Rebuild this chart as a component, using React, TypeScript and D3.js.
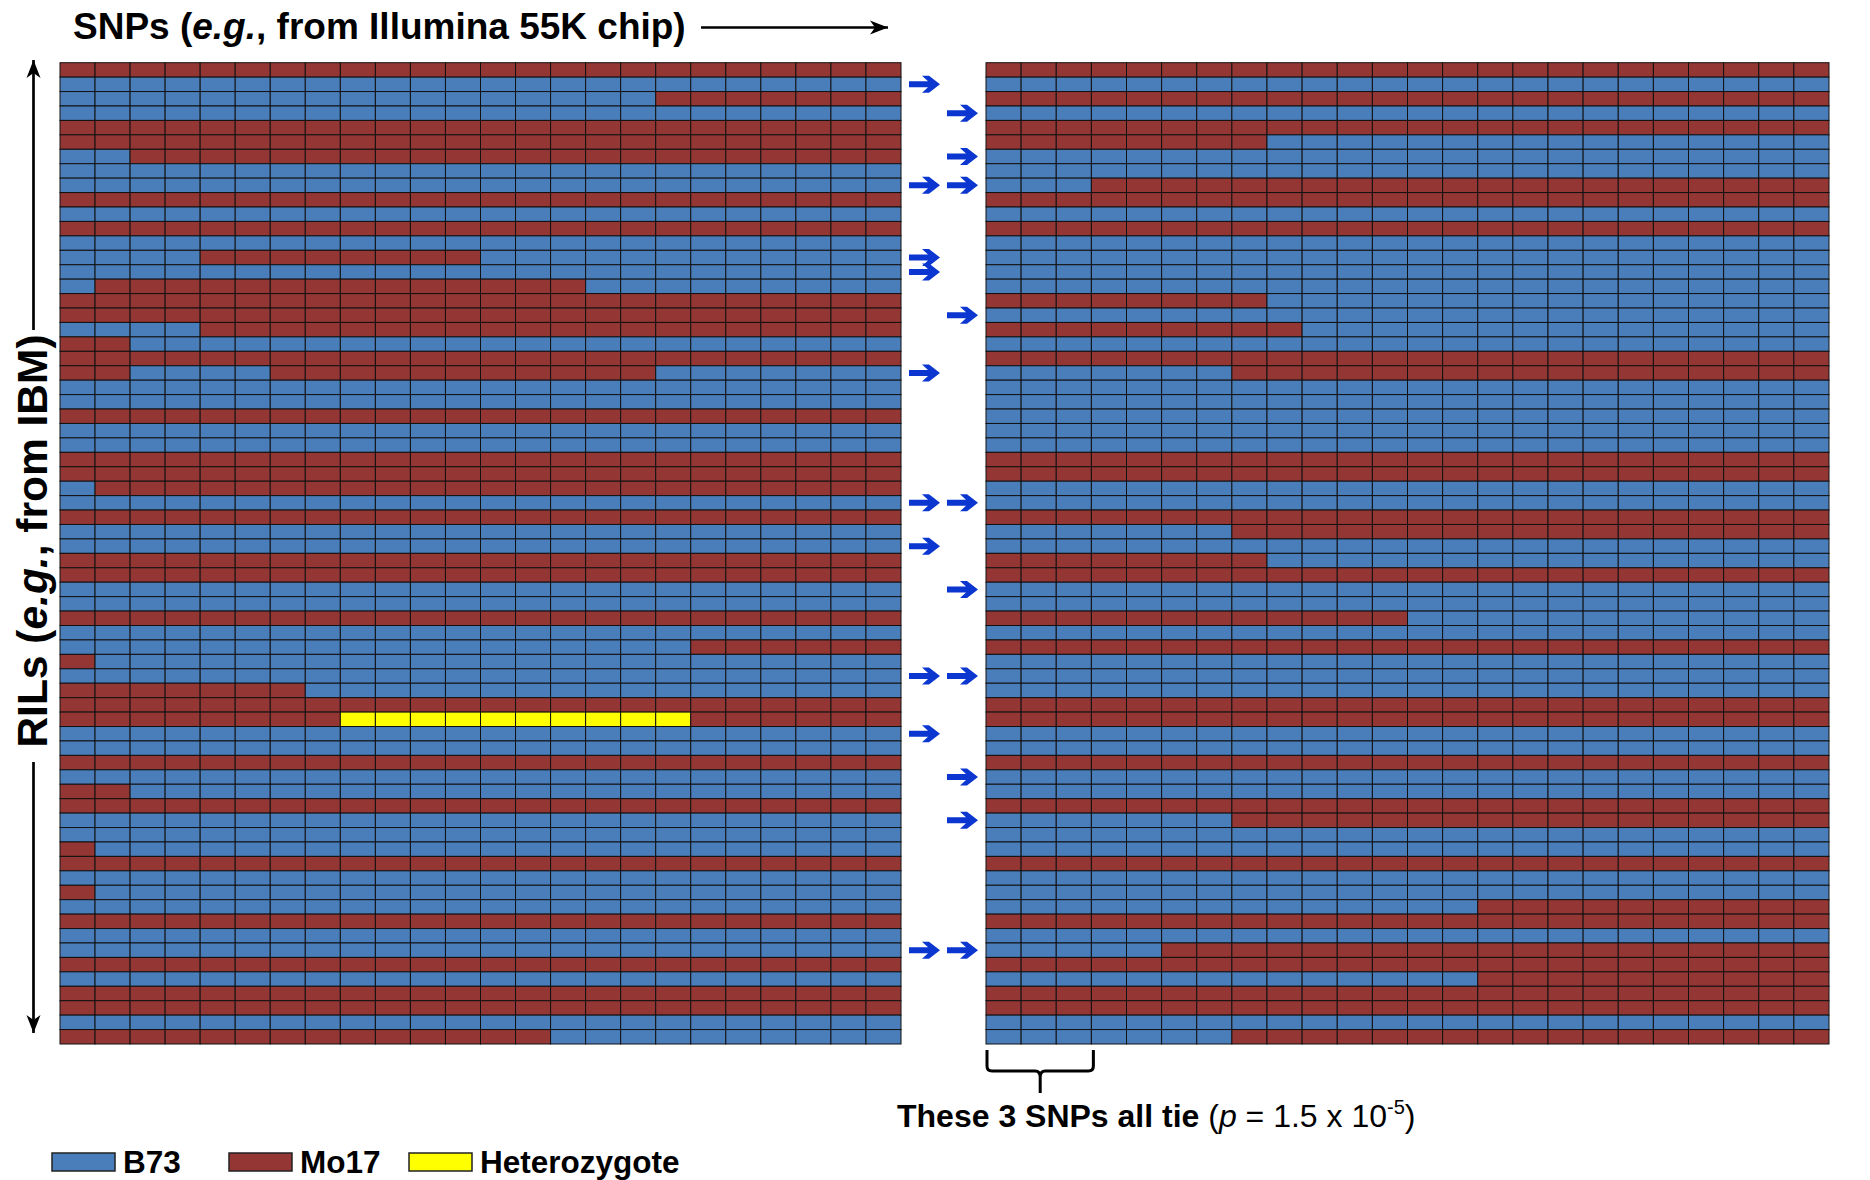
import React, { useEffect, useRef } from 'react';
import * as d3 from 'd3';

// genotype calls per RIL (row), run-length coded: B = B73, M = Mo17, H = heterozygote
const leftRows = [
  'M24', 'B24', 'B17 M7', 'B24', 'M24', 'M24', 'B2 M22', 'B24', 'B24', 'M24',
  'B24', 'M24', 'B24', 'B4 M8 B12', 'B24', 'B1 M14 B9', 'M24', 'M24', 'B4 M20', 'M2 B22',
  'M24', 'M2 B4 M11 B7', 'B24', 'B24', 'M24', 'B24', 'B24', 'M24', 'M24', 'B1 M23',
  'B24', 'M24', 'B24', 'B24', 'M24', 'M24', 'B24', 'B24', 'M24', 'B24',
  'B18 M6', 'M1 B23', 'B24', 'M7 B17', 'M24', 'M8 H10 M6', 'B24', 'B24', 'M24', 'B24',
  'M2 B22', 'M24', 'B24', 'B24', 'M1 B23', 'M24', 'B24', 'M1 B23', 'B24', 'M24',
  'B24', 'B24', 'M24', 'B24', 'M24', 'M24', 'B24', 'M14 B10',
];

const rightRows = [
  'M24', 'B24', 'M24', 'B24', 'M24', 'M8 B16', 'B24', 'B24', 'B3 M21', 'M24',
  'B24', 'M24', 'B24', 'B24', 'B24', 'B24', 'M8 B16', 'B24', 'M9 B15', 'B24',
  'M24', 'B7 M17', 'B24', 'B24', 'B24', 'B24', 'B24', 'M24', 'M24', 'B24',
  'B24', 'M24', 'B7 M17', 'B24', 'M8 B16', 'M24', 'B24', 'B24', 'M12 B12', 'B24',
  'M24', 'B24', 'B24', 'B24', 'M24', 'M24', 'B24', 'B24', 'M24', 'B24',
  'B24', 'M24', 'B7 M17', 'B24', 'B24', 'M24', 'B24', 'B24', 'B14 M10', 'M24',
  'B24', 'B5 M19', 'M24', 'B14 M10', 'M24', 'M24', 'B24', 'B7 M17',
];

// rows (1-based) flagged by the blue arrows, first and second arrow column
const arrowRowsNear = [2, 9, 14, 15, 22, 31, 34, 43, 47, 62];
const arrowRowsFar = [4, 7, 9, 18, 31, 37, 43, 50, 53, 62];

const legendKeys = ['B', 'M', 'H'];
const legendLabels = ['B73', 'Mo17', 'Heterozygote'];

const tieSnps = 3;

const colors: Record<string, string> = { B: '#4a7ebb', M: '#943634', H: '#ffff00' };
const font = "'Liberation Sans', Arial, sans-serif";

const expand = (s: string) =>
  s.split(' ').flatMap(tok => d3.range(+tok.slice(1)).map(() => tok[0]));

const drawChart = (ref: any) => {
  const width = 1870;
  const height = 1180;
  const nCols = 24;

  const svg = d3.select(ref.current).attr('width', width).attr('height', height);
  svg.selectAll('*').remove();

  const defs = svg.append('defs');
  defs.append('marker')
    .attr('id', 'head')
    .attr('markerUnits', 'userSpaceOnUse')
    .attr('markerWidth', 20)
    .attr('markerHeight', 16)
    .attr('refX', 18)
    .attr('refY', 8)
    .attr('orient', 'auto-start-reverse')
    .append('path')
    .attr('d', 'M0,1 L18,8 L0,15 L5,8 Z')
    .attr('fill', '#000');

  const y = d3.scaleBand<number>().domain(d3.range(leftRows.length)).range([62.7, 1044]);
  const xLeft = d3.scaleBand<number>().domain(d3.range(nCols)).range([60, 901]);
  const xRight = d3.scaleBand<number>().domain(d3.range(nCols)).range([986, 1829]);

  // the two genotype grids
  const grids = [
    { rows: leftRows, x: xLeft },
    { rows: rightRows, x: xRight },
  ];
  grids.forEach(grid => {
    const cells = grid.rows.flatMap((r, i) => expand(r).map((g, j) => ({ i, j, g })));
    svg.append('g')
      .selectAll('rect')
      .data(cells)
      .enter().append('rect')
      .attr('x', d => grid.x(d.j)!)
      .attr('y', d => y(d.i)!)
      .attr('width', grid.x.bandwidth())
      .attr('height', y.bandwidth())
      .attr('fill', d => colors[d.g])
      .attr('stroke', '#111')
      .attr('stroke-width', 1);
  });

  // blue arrows between the grids
  const arrowPath = (x0: number, yc: number) =>
    `M${x0},${yc - 3} L${x0 + 19},${yc - 3} L${x0 + 13},${yc - 8.5} L${x0 + 20},${yc - 8.5} ` +
    `L${x0 + 31},${yc} L${x0 + 20},${yc + 8.5} L${x0 + 13},${yc + 8.5} L${x0 + 19},${yc + 3} L${x0},${yc + 3} Z`;
  const arrowCols = [
    { rows: arrowRowsNear, x0: 909 },
    { rows: arrowRowsFar, x0: 947 },
  ];
  arrowCols.forEach(col => {
    svg.append('g')
      .selectAll('path')
      .data(col.rows)
      .enter().append('path')
      .attr('d', r => arrowPath(col.x0, y(r - 1)! + y.bandwidth() / 2))
      .attr('fill', '#0b37d0');
  });

  // title with arrow
  const title = svg.append('text')
    .attr('x', 73)
    .attr('y', 39)
    .attr('font-family', font)
    .attr('font-weight', 'bold')
    .attr('font-size', 37)
    .attr('fill', '#000');
  title.append('tspan').text('SNPs (');
  title.append('tspan').attr('font-style', 'italic').text('e.g.');
  title.append('tspan').text(', from Illumina 55K chip)');

  svg.append('line')
    .attr('x1', 701).attr('y1', 27.5)
    .attr('x2', 888).attr('y2', 27.5)
    .attr('stroke', '#000')
    .attr('stroke-width', 2.7)
    .attr('marker-end', 'url(#head)');

  // vertical axis label with arrows
  const ylab = svg.append('text')
    .attr('transform', 'translate(47,541) rotate(-90)')
    .attr('text-anchor', 'middle')
    .attr('font-family', font)
    .attr('font-weight', 'bold')
    .attr('font-size', 42.5)
    .attr('fill', '#000');
  ylab.append('tspan').text('RILs (');
  ylab.append('tspan').attr('font-style', 'italic').text('e.g.');
  ylab.append('tspan').text(', from IBM)');

  svg.append('line')
    .attr('x1', 33.5).attr('y1', 330)
    .attr('x2', 33.5).attr('y2', 60)
    .attr('stroke', '#000').attr('stroke-width', 2.7)
    .attr('marker-end', 'url(#head)');
  svg.append('line')
    .attr('x1', 33.5).attr('y1', 762)
    .attr('x2', 33.5).attr('y2', 1033)
    .attr('stroke', '#000').attr('stroke-width', 2.7)
    .attr('marker-end', 'url(#head)');

  // brace under the tied SNPs
  const bx0 = xRight(0)! + 1;
  const bx1 = xRight(tieSnps - 1)! + xRight.bandwidth() + 2;
  const bm = (bx0 + bx1) / 2;
  const top = 1050, mid = 1071, tip = 1093;
  svg.append('path')
    .attr('d',
      `M${bx0},${top} L${bx0},${mid - 5} Q${bx0},${mid} ${bx0 + 5},${mid} L${bm - 5},${mid} ` +
      `Q${bm},${mid} ${bm},${mid + 6} L${bm},${tip} M${bm},${mid + 6} Q${bm},${mid} ${bm + 5},${mid} ` +
      `L${bx1 - 5},${mid} Q${bx1},${mid} ${bx1},${mid - 5} L${bx1},${top}`)
    .attr('fill', 'none')
    .attr('stroke', '#000')
    .attr('stroke-width', 3);

  const note = svg.append('text')
    .attr('x', 897)
    .attr('y', 1127)
    .attr('font-family', font)
    .attr('font-size', 32)
    .attr('fill', '#000');
  note.append('tspan').attr('font-weight', 'bold').text(`These ${tieSnps} SNPs all tie `);
  note.append('tspan').text('(');
  note.append('tspan').attr('font-style', 'italic').text('p');
  note.append('tspan').text(' = 1.5 x 10');
  note.append('tspan').attr('font-size', 20).attr('dy', -13).text('-5');
  note.append('tspan').attr('dy', 13).text(')');

  // legend
  const legendX = [52, 229, 409];
  const legend = svg.append('g');
  legendKeys.forEach((k, i) => {
    legend.append('rect')
      .attr('x', legendX[i])
      .attr('y', 1153)
      .attr('width', 63)
      .attr('height', 18)
      .attr('fill', colors[k])
      .attr('stroke', '#222')
      .attr('stroke-width', 1.5);
    legend.append('text')
      .attr('x', legendX[i] + 71)
      .attr('y', 1173)
      .attr('font-family', font)
      .attr('font-weight', 'bold')
      .attr('font-size', 31.5)
      .attr('fill', '#000')
      .text(legendLabels[i]);
  });
};

function App() {
  const ref = useRef<SVGSVGElement>(null);

  useEffect(() => {
    drawChart(ref);
  }, []);

  return (
    <div style={{ position: 'absolute', left: 0, top: 0, background: '#fff' }}>
      <svg ref={ref} style={{ display: 'block' }} />
    </div>
  );
}

export default App;
